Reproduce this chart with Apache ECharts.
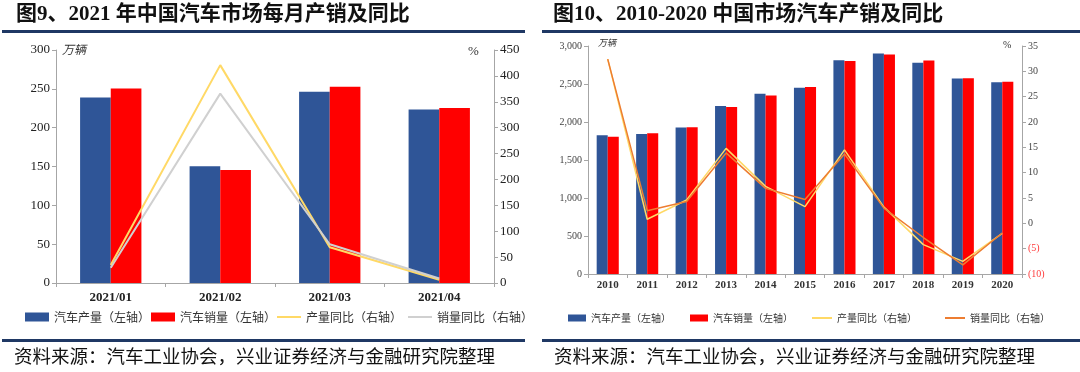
<!DOCTYPE html>
<html><head><meta charset="utf-8">
<script src="https://cdn.jsdelivr.net/npm/echarts@6/dist/echarts.min.js"></script>
<style>html,body{margin:0;padding:0;background:#fff;}#c{width:1080px;height:372px;}</style>
</head><body><div id="c"></div>
<script>
// Left chart: monthly 2021
const months = ['2021/01', '2021/02', '2021/03', '2021/04'];
const monthProd = [238.8, 150.3, 246.1, 223.4];
const monthSales = [250.3, 145.5, 252.6, 225.2];
const monthProdYoY = [34.6, 420.8, 69.1, 6.3];
const monthSalesYoY = [29.5, 365.7, 74.9, 8.6];
// Right chart: annual 2010-2020
const years = ['2010','2011','2012','2013','2014','2015','2016','2017','2018','2019','2020'];
const yearProd = [1826.5, 1841.9, 1927.2, 2211.7, 2372.3, 2450.3, 2811.9, 2901.5, 2780.9, 2572.1, 2522.5];
const yearSales = [1806.2, 1850.5, 1930.6, 2198.4, 2349.2, 2459.8, 2802.8, 2887.9, 2808.1, 2576.9, 2531.1];
const yearProdYoY = [32.4, 0.8, 4.6, 14.8, 7.3, 3.3, 14.5, 3.2, -4.2, -7.5, -2.0];
const yearSalesYoY = [32.4, 2.5, 4.3, 13.9, 6.9, 4.7, 13.7, 3.0, -2.8, -8.2, -1.9];

const names = ['汽车产量（左轴）', '汽车销量（左轴）', '产量同比（右轴）', '销量同比（右轴）'];
const BLUE = '#2F5597', RED = '#FF0000', YEL = '#FFD966', GREY = '#D0D0D0', ORG = '#ED7D31';
const SERIF = 'Liberation Serif';
const CJK = 'Noto Sans CJK SC';
const AXC = '#A6A6A6';
const L = 'L|', R = 'R|';

function leg(name, x, top, isLine, fs, w, h) {
  return {
    data: [name], left: x, top: top, orient: 'horizontal',
    icon: 'rect', itemWidth: w, itemHeight: isLine ? 2 : h, itemGap: 0,
    formatter: n => n.slice(2),
    textStyle: { fontFamily: CJK, fontSize: fs, color: '#333' },
    padding: 0, selectedMode: false
  };
}

const valAxisBase = (gi, pos, min, max, interval, fs, fmt, color) => ({
  type: 'value', gridIndex: gi, position: pos, min: min, max: max, interval: interval,
  splitLine: { show: false },
  axisLine: { show: true, lineStyle: { color: AXC, width: 1 } },
  axisTick: { show: true, length: 4, lineStyle: { color: AXC } },
  axisLabel: { fontFamily: SERIF, fontSize: fs, color: color || '#222', margin: 6, formatter: fmt }
});

const option = {
  animation: false,
  backgroundColor: '#fff',
  grid: [
    { left: 56, right: 586, top: 50, bottom: 89 },
    { left: 588, right: 58, top: 46, bottom: 98 }
  ],
  xAxis: [
    { type: 'category', gridIndex: 0, data: months, boundaryGap: true,
      axisLine: { show: true, lineStyle: { color: AXC } },
      axisTick: { show: true, length: 4, interval: 0, lineStyle: { color: AXC } },
      axisLabel: { fontFamily: SERIF, fontSize: 13, color: '#222', margin: 8, fontWeight: 'bold' } },
    { type: 'category', gridIndex: 1, data: years, boundaryGap: true,
      axisLine: { show: true, lineStyle: { color: AXC } },
      axisTick: { show: true, length: 4, interval: 0, lineStyle: { color: AXC } },
      axisLabel: { fontFamily: SERIF, fontSize: 11, color: '#333', margin: 6, fontWeight: 'bold' } }
  ],
  yAxis: [
    valAxisBase(0, 'left', 0, 300, 50, 13),
    valAxisBase(0, 'right', 0, 450, 50, 13),
    valAxisBase(1, 'left', 0, 3000, 500, 10, v => v.toLocaleString('en-US'), '#444'),
    valAxisBase(1, 'right', -10, 35, 5, 10, v => v < 0 ? '(' + Math.abs(v) + ')' : String(v), '#444')
  ],
  legend: [
    leg(L + names[0], 25, 311, false, 12, 24, 9),
    leg(L + names[1], 151, 311, false, 12, 24, 9),
    leg(L + names[2], 277, 311, true, 12, 24, 9),
    leg(L + names[3], 408, 311, true, 12, 24, 9),
    leg(R + names[0], 568, 313, false, 10, 18, 7),
    leg(R + names[1], 690, 313, false, 10, 18, 7),
    leg(R + names[2], 812, 313, true, 10, 20, 7),
    leg(R + names[3], 945, 313, true, 10, 20, 7)
  ],
  series: [
    { name: L + names[0], type: 'bar', xAxisIndex: 0, yAxisIndex: 0, data: monthProd, barWidth: '28%', barGap: '0%', itemStyle: { color: BLUE } },
    { name: L + names[1], type: 'bar', xAxisIndex: 0, yAxisIndex: 0, data: monthSales, barWidth: '28%', barGap: '0%', itemStyle: { color: RED } },
    { name: L + names[2], type: 'line', xAxisIndex: 0, yAxisIndex: 1, data: monthProdYoY, symbol: 'none', lineStyle: { color: YEL, width: 2 }, itemStyle: { color: YEL } },
    { name: L + names[3], type: 'line', xAxisIndex: 0, yAxisIndex: 1, data: monthSalesYoY, symbol: 'none', lineStyle: { color: GREY, width: 2 }, itemStyle: { color: GREY } },
    { name: R + names[0], type: 'bar', xAxisIndex: 1, yAxisIndex: 2, data: yearProd, barWidth: '28%', barGap: '0%', itemStyle: { color: BLUE } },
    { name: R + names[1], type: 'bar', xAxisIndex: 1, yAxisIndex: 2, data: yearSales, barWidth: '28%', barGap: '0%', itemStyle: { color: RED } },
    { name: R + names[2], type: 'line', xAxisIndex: 1, yAxisIndex: 3, data: yearProdYoY, symbol: 'none', lineStyle: { color: YEL, width: 1.5 }, itemStyle: { color: YEL } },
    { name: R + names[3], type: 'line', xAxisIndex: 1, yAxisIndex: 3, data: yearSalesYoY, symbol: 'none', lineStyle: { color: ORG, width: 1.5 }, itemStyle: { color: ORG } }
  ],
  graphic: [
    { type: 'text', left: 16, top: 4, style: { text: '图9、2021 年中国汽车市场每月产销及同比', font: 'bold 21px "Liberation Serif", "Noto Sans CJK SC"', fill: '#111' } },
    { type: 'text', left: 553, top: 4, style: { text: '图10、2010-2020 中国市场汽车产销及同比', font: 'bold 21px "Liberation Serif", "Noto Sans CJK SC"', fill: '#111' } },
    { type: 'rect', shape: { x: 2, y: 30, width: 523, height: 3 }, style: { fill: '#1F3864' } },
    { type: 'rect', shape: { x: 542, y: 30, width: 538, height: 3 }, style: { fill: '#1F3864' } },
    { type: 'rect', shape: { x: 2, y: 339, width: 523, height: 3 }, style: { fill: '#1F3864' } },
    { type: 'rect', shape: { x: 542, y: 339, width: 538, height: 3 }, style: { fill: '#1F3864' } },
    { type: 'text', left: 14, top: 347, style: { text: '资料来源：汽车工业协会，兴业证券经济与金融研究院整理', font: '18.5px "Noto Sans CJK SC"', fill: '#111' } },
    { type: 'text', left: 554, top: 347, style: { text: '资料来源：汽车工业协会，兴业证券经济与金融研究院整理', font: '18.5px "Noto Sans CJK SC"', fill: '#111' } },
    { type: 'text', left: 62, top: 43, style: { text: '万辆', font: 'italic 12px "Noto Sans CJK SC"', fill: '#333' } },
    { type: 'text', left: 468, top: 45, style: { text: '%', font: '13px "Liberation Serif"', fill: '#333' } },
    { type: 'text', left: 598, top: 38, style: { text: '万辆', font: 'italic 9px "Noto Sans CJK SC"', fill: '#333' } },
    { type: 'text', left: 1003, top: 40, style: { text: '%', font: '10px "Liberation Serif"', fill: '#333' } }
  ]
};

option.yAxis[3].axisLabel.color = function (v) { return Number(v) < 0 ? '#FF3B3B' : '#444'; };
const chart = echarts.init(document.getElementById('c'), null, { renderer: 'canvas' });
chart.setOption(option);
</script>
</body></html>
